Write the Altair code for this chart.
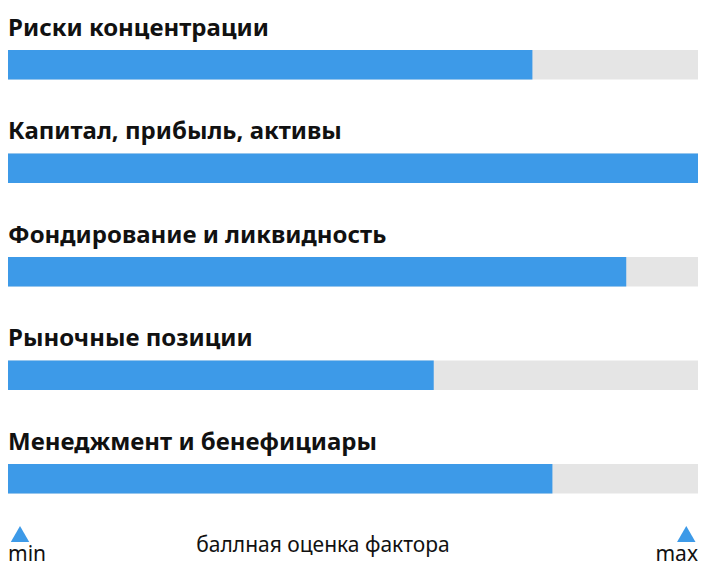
import altair as alt
import pandas as pd

categories = [
    "Риски концентрации",
    "Капитал, прибыль, активы",
    "Фондирование и ликвидность",
    "Рыночные позиции",
    "Менеджмент и бенефициары",
]
scores = [76.0, 100.0, 89.6, 61.7, 78.9]
max_score = 100.0

axis_marks = ["min", "max"]
axis_mark_pos = [1.74, 98.3]
axis_title = "баллная оценка фактора"
axis_title_pos = 45.65

BLUE = "#3d9ae8"
GRAY = "#e5e5e5"
FONT = "Noto Sans"

df = pd.DataFrame({"cat": categories, "score": scores, "full": [max_score] * len(categories)})
ax_df = pd.DataFrame({"label": axis_marks, "pos": axis_mark_pos})
t_df = pd.DataFrame({"label": [axis_title], "pos": [axis_title_pos]})

W, H = 690, 559

yenc = alt.Y("cat:N", sort=categories, axis=None,
             scale=alt.Scale(paddingInner=0.715, paddingOuter=0.558, align=0.364))
xscale = alt.Scale(domain=[0, max_score], nice=False, zero=True)

base = alt.Chart(df)
bg = base.mark_bar(color=GRAY, cornerRadius=0).encode(
    x=alt.X("full:Q", scale=xscale, axis=None), x2=alt.datum(0), y=yenc)
fg = base.mark_bar(color=BLUE, cornerRadius=0).encode(
    x=alt.X("score:Q", scale=xscale, axis=None), x2=alt.datum(0), y=yenc)
titles = base.mark_text(align="left", baseline="alphabetic", dy=-29, dx=0,
                        font=FONT, fontSize=24, fontWeight="bold", color="#111111").encode(
    x=alt.datum(0), y=yenc, text="cat:N")

tri = alt.Chart(ax_df).mark_point(shape="triangle-up", filled=True, size=340,
                                  color=BLUE, opacity=1, strokeWidth=0).encode(
    x=alt.X("pos:Q", scale=xscale), y=alt.value(526))
min_lbl = alt.Chart(ax_df.iloc[[0]]).mark_text(align="left", baseline="middle", font=FONT,
                                               fontSize=21, color="#111111").encode(
    x=alt.datum(0), y=alt.value(547), text="label:N")
max_lbl = alt.Chart(ax_df.iloc[[1]]).mark_text(align="right", baseline="middle", font=FONT,
                                               fontSize=21, color="#111111").encode(
    x=alt.datum(max_score), y=alt.value(547), text="label:N")
ttl = alt.Chart(t_df).mark_text(baseline="middle", font=FONT, fontSize=21,
                                color="#111111").encode(
    x=alt.X("pos:Q", scale=xscale), y=alt.value(538), text="label:N")

chart = alt.layer(bg, fg, titles, tri, min_lbl, max_lbl, ttl).properties(
    width=W, height=H, padding=0, autosize=alt.AutoSizeParams(type="none"),
    background="white"
).configure_view(strokeWidth=0, stroke="transparent")

chart.save("out.html", embed_options={"renderer": "svg", "actions": False})
